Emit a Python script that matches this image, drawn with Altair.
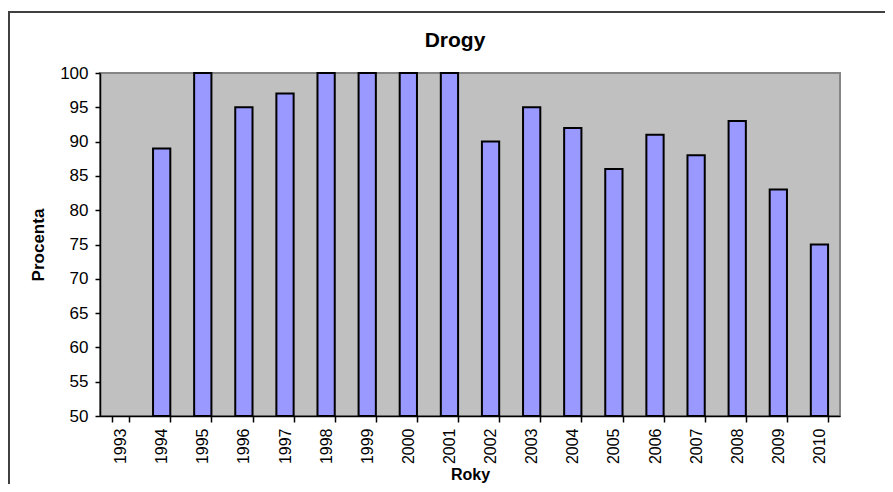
import altair as alt
import pandas as pd

years = [str(y) for y in range(1993, 2011)]
values = [None, 89, 100, 95, 97, 100, 100, 100, 100, 90, 95, 92, 86, 91, 88, 93, 83, 75]

df = pd.DataFrame({"Rok": years, "Procenta": values})

FONT = "Liberation Sans"
W, H = 740, 343

x_enc = alt.X(
    "Rok:N",
    sort=years,
    title="Roky",
    scale=alt.Scale(paddingInner=0.58, paddingOuter=0.29),
    axis=alt.Axis(
        labelAngle=270,
        labelAlign="right",
        labelBaseline="middle",
        labelFontSize=16,
        labelFont=FONT,
        labelColor="black",
        labelPadding=6,
        tickBand="extent",
        tickSize=6,
        tickColor="black",
        tickWidth=1.5,
        domainColor="black",
        domainWidth=1.5,
        titleFont=FONT,
        titleFontSize=16,
        titleFontWeight="bold",
        titleColor="black",
        titlePadding=3,
        grid=False,
    ),
)

y_enc = alt.Y(
    "Procenta:Q",
    title="Procenta",
    scale=alt.Scale(domain=[50, 100], zero=False, nice=False),
    axis=alt.Axis(
        values=list(range(50, 101, 5)),
        labelFontSize=17,
        labelFont=FONT,
        labelColor="black",
        labelPadding=7,
        tickSize=5,
        tickColor="black",
        tickWidth=1.5,
        domainColor="black",
        domainWidth=1.5,
        titleFont=FONT,
        titleFontSize=17,
        titleFontWeight="bold",
        titleColor="black",
        titlePadding=12,
        grid=False,
    ),
)

bars = alt.Chart(df).mark_bar(
    color="#9999FF", stroke="black", strokeWidth=2
).encode(
    x=x_enc,
    y=y_enc,
    y2=alt.datum(50),
)

one = alt.Data(values=[{}])

title = alt.Chart(one).mark_text(
    text="Drogy", font=FONT, fontSize=21, fontWeight="bold", color="black",
    align="center", baseline="alphabetic"
).encode(x=alt.value(355), y=alt.value(-26))

border_top = alt.Chart(one).mark_rule(color="#404040", strokeWidth=2).encode(
    x=alt.value(-92), x2=alt.value(900), y=alt.value(-61)
)
border_left = alt.Chart(one).mark_rule(color="#404040", strokeWidth=2).encode(
    x=alt.value(-91), y=alt.value(-61), y2=alt.value(500)
)

chart = alt.layer(bars, title, border_top, border_left).properties(
    width=W,
    height=H,
    autosize=alt.AutoSizeParams(type="none"),
    padding={"left": 92, "top": 65, "right": 45, "bottom": 68},
    background="white",
).configure_view(
    fill="#C0C0C0", stroke="#858585", strokeWidth=2
)

chart.save("out.html", embed_options={"renderer": "svg", "actions": False})
